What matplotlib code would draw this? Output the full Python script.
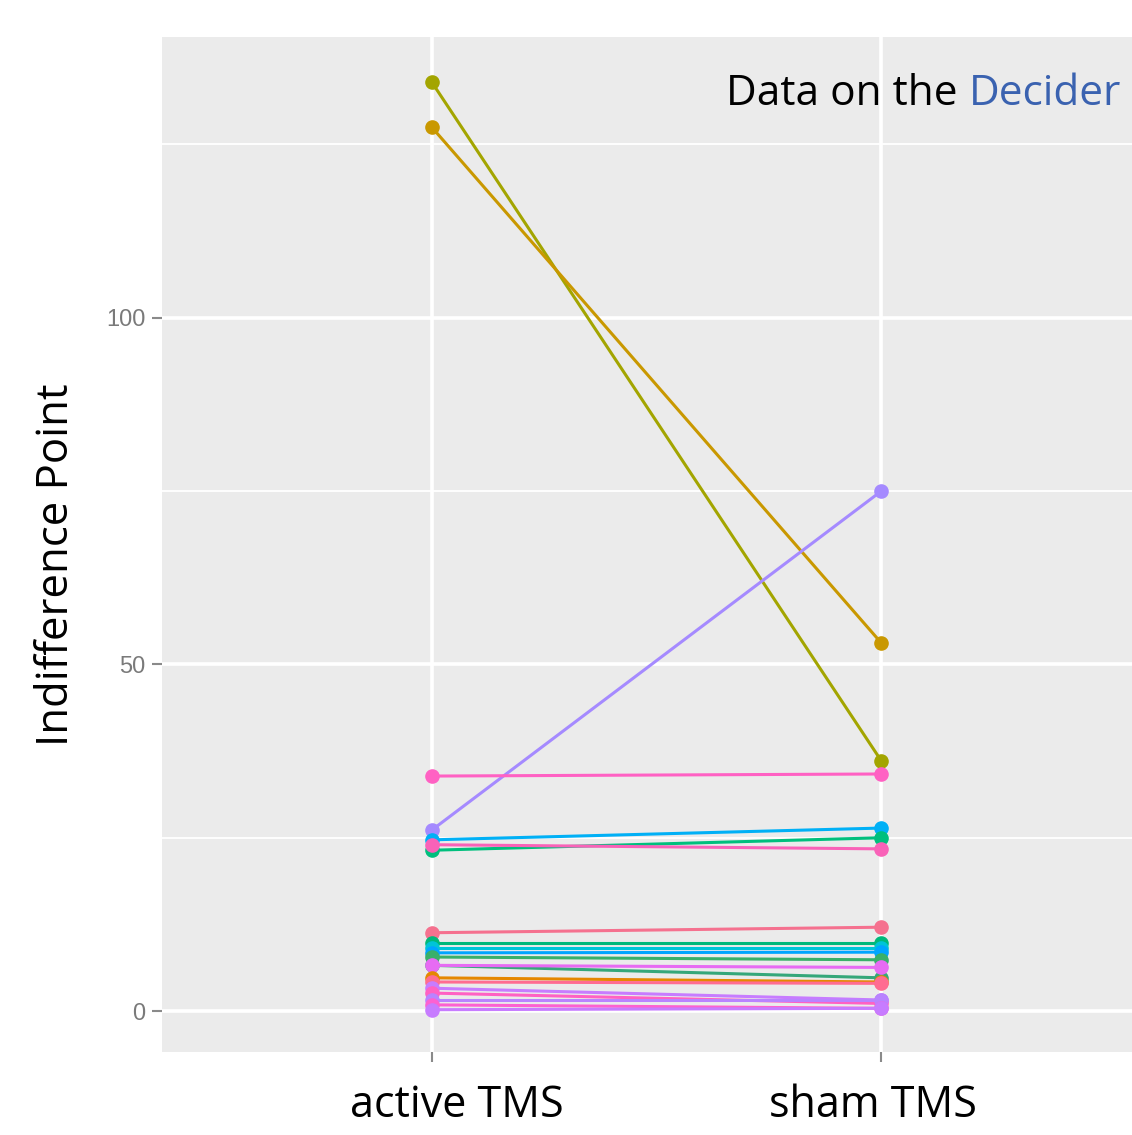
import numpy as np
from matplotlib import pyplot as plt

# indifference points per subject (active TMS -> sham TMS)
conditions = ['active TMS', 'sham TMS']
active = [134.0, 127.5, 26.1, 33.9, 24.7, 23.2, 24.0, 11.3, 9.8, 9.1, 8.4, 7.8,
          6.6, 6.6, 4.8, 4.2, 3.3, 2.6, 1.6, 0.9, 0.2]
sham = [36.1, 53.1, 75.0, 34.2, 26.4, 25.0, 23.4, 12.1, 9.8, 9.1, 8.5, 7.4,
        4.8, 6.3, 4.2, 4.0, 1.6, 1.1, 1.6, 0.4, 0.4]
colors = ['#A3A500', '#C99800', '#A58AFF', '#FF61C3', '#00B0F6', '#00BF7D',
          '#F962B8', '#F5718F', '#00B87A', '#00C4D8', '#00A5FF', '#39B06A',
          '#35A77A', '#E76BF3', '#E58700', '#FF6C91', '#C77CFF', '#FF61C3',
          '#B983FF', '#FD61D1', '#C77CFF']
yticks = [0, 50, 100]
yminor = [25, 75, 125]

W, H = 1132, 1135
fig = plt.figure(figsize=(W/100, H/100), dpi=100)
ax = fig.add_axes([162/W, 83/H, 989/W, 1015/H])
ax.set_facecolor('#EBEBEB')
for s in ax.spines.values():
    s.set_visible(False)

x = np.arange(1, len(conditions)+1)
for a, s, c in zip(active, sham, colors):
    ax.plot(x, [a, s], color=c, lw=2.2, marker='o', ms=9.5, mec=c, zorder=3)

ax.set_xlim(0.4, 2.6)
ax.set_ylim(-5.9, 140.5)
ax.set_xticks(x)
ax.set_xticklabels([])
# category labels sit a bit off the ticks in the original
for xi, lab, dx in zip(x, conditions, [25, -8]):
    ax.annotate(lab, xy=(xi, 0), xycoords=('data', 'axes fraction'),
                xytext=(dx, -65), textcoords='offset pixels',
                ha='center', va='baseline', fontsize=31, family='Open Sans',
                annotation_clip=False)
ax.set_yticks(yticks)
ax.set_yticks(yminor, minor=True)
ax.set_yticklabels([str(v) for v in yticks], fontsize=17, color='#7a7a7a',
                   family='Liberation Sans')
ax.tick_params(axis='y', which='major', length=7, width=1.5, color='#8a8a8a', pad=5)
ax.tick_params(axis='y', which='minor', length=0)
ax.tick_params(axis='x', length=7, width=1.5, color='#8a8a8a')
ax.grid(True, which='major', color='white', lw=2.6, zorder=0)
ax.grid(True, which='minor', axis='y', color='white', lw=1.3, zorder=0)
ax.set_axisbelow(True)

fig.text(57/W, 1-565/H, 'Indifference Point', rotation=90, ha='center', va='center',
         fontsize=31.5, family='Open Sans')

# two-colour annotation, right aligned
t2 = fig.text(1121/W, 1-105/H, 'Decider', ha='right', va='baseline',
              fontsize=30.5, family='Open Sans', color='#3A62B0')
fig.canvas.draw()
bb = t2.get_window_extent()
fig.text(bb.x0/W, 1-105/H, 'Data on the ', ha='right', va='baseline',
         fontsize=30.5, family='Open Sans', color='black')

fig.savefig('out.png', dpi=100)
